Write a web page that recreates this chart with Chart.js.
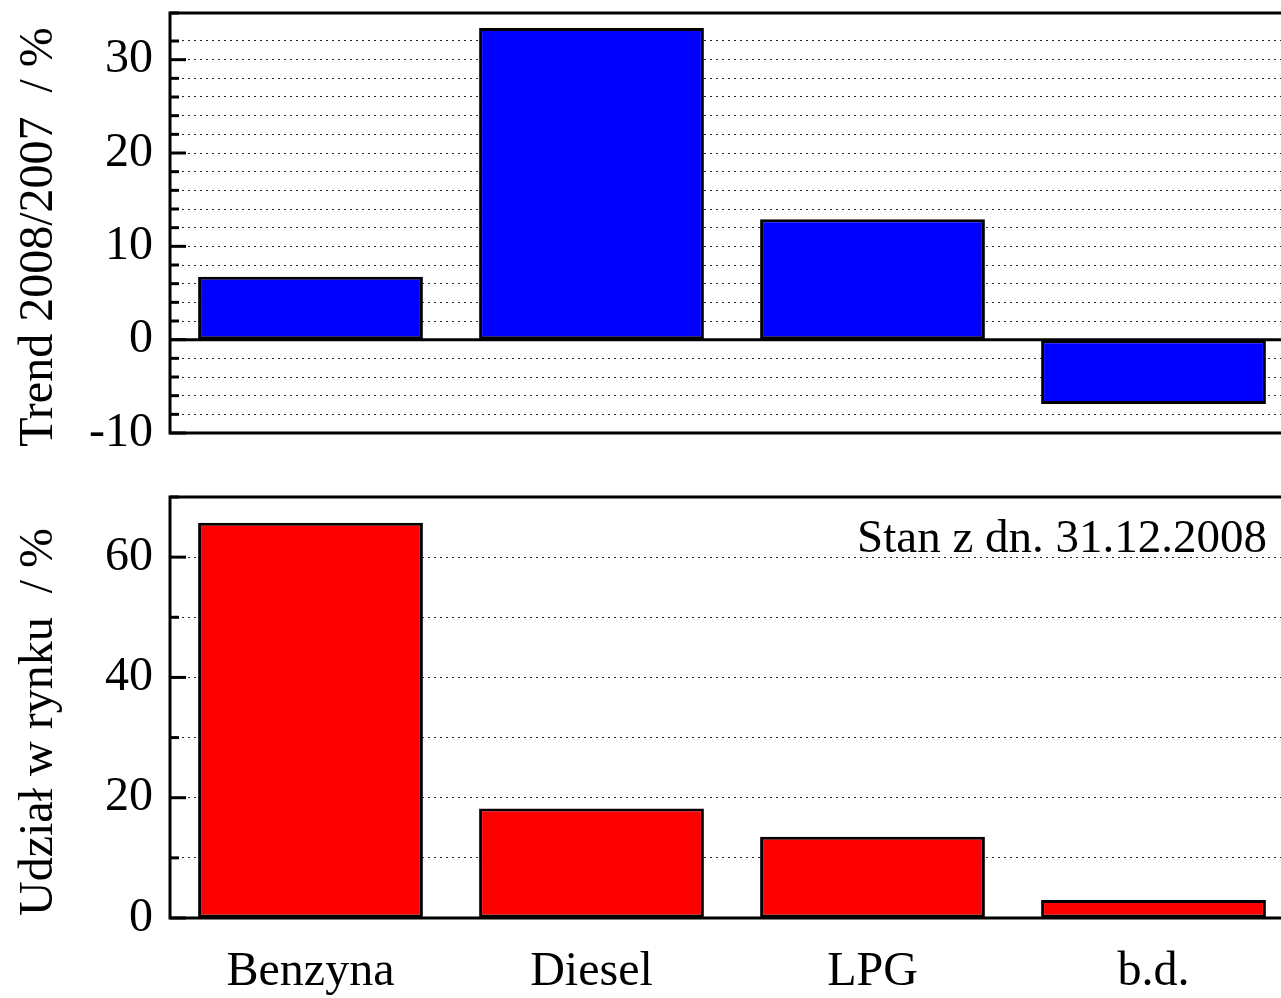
<!DOCTYPE html>
<html><head><meta charset="utf-8">
<script src="https://cdn.jsdelivr.net/npm/chart.js@4.4.0/dist/chart.umd.min.js"></script>
<style>
html,body{margin:0;padding:0;background:#fff;overflow:hidden;width:1281px;height:998px;}
#wrap{position:relative;width:1281px;height:998px;overflow:hidden;}
canvas{position:absolute;left:0;}
</style></head><body>
<div id="wrap">
<canvas id="c1" width="1300" height="465" style="top:0;width:1300px;height:465px"></canvas>
<canvas id="c2" width="1300" height="533" style="top:465px;width:1300px;height:533px"></canvas>
</div>
<script>
const categories = ['Benzyna', 'Diesel', 'LPG', 'b.d.'];
const trendValues = [6.75, 33.4, 12.9, -6.9];
const shareValues = [65.7, 18.2, 13.5, 3.0];
const trendTickLabels = [-10, 0, 10, 20, 30];
const shareTickLabels = [0, 20, 40, 60];
const trendTitle = 'Trend 2008/2007  / %';
const shareTitle = 'Udział w rynku  / %';
const noteText = 'Stan z dn. 31.12.2008';

const FONT = '"Liberation Serif","Times New Roman",Times,serif';

function decoPlugin(o) {
  return {
    id: 'deco',
    afterDraw(chart) {
      const ctx = chart.ctx, a = chart.chartArea, y = chart.scales.y;
      const R = a.right + 20;
      ctx.save();
      ctx.setLineDash([]);
      ctx.strokeStyle = '#000';
      ctx.lineWidth = 3;
      y.ticks.forEach(t => {
        const p = y.getPixelForValue(t.value);
        const major = o.major.includes(t.value);
        ctx.beginPath();
        ctx.moveTo(a.left, p);
        ctx.lineTo(a.left + (major ? 16 : 9), p);
        ctx.stroke();
      });
      if (o.zero) {
        const p = y.getPixelForValue(0);
        ctx.beginPath(); ctx.moveTo(a.left, p); ctx.lineTo(R, p); ctx.stroke();
      }
      ctx.beginPath();
      ctx.moveTo(R, a.top); ctx.lineTo(a.left, a.top);
      ctx.lineTo(a.left, a.bottom); ctx.lineTo(R, a.bottom);
      ctx.stroke();
      ctx.fillStyle = '#000';
      if (o.note) {
        ctx.font = '47px ' + FONT;
        ctx.textAlign = 'right'; ctx.textBaseline = 'alphabetic';
        ctx.fillText(o.note, o.noteX, o.noteY);
      }
      ctx.font = '48px ' + FONT;
      ctx.translate(o.titleX, o.titleY);
      ctx.rotate(-Math.PI / 2);
      ctx.textAlign = 'center'; ctx.textBaseline = 'alphabetic';
      ctx.fillText(o.title, 0, 0);
      ctx.restore();
    }
  };
}

function yScale(min, max, step, labels) {
  return {
    min: min, max: max,
    afterFit(s) { s.width = 170; s.paddingTop = 0; s.paddingBottom = 0; },
    border: { display: false, dash: [2, 4] },
    grid: { color: 'rgba(0,0,0,0.85)', lineWidth: 1, drawTicks: false },
    ticks: {
      stepSize: step, autoSkip: false, padding: 17, color: '#000',
      font: { family: FONT, size: 48 },
      callback: v => labels.includes(v) ? String(v) : ''
    }
  };
}

new Chart(document.getElementById('c1'), {
  type: 'bar',
  data: {
    labels: categories,
    datasets: [{ data: trendValues, backgroundColor: '#0000FF', borderColor: '#000', borderWidth: 3, borderSkipped: false, barPercentage: 0.8, categoryPercentage: 1 }]
  },
  options: {
    responsive: false, animation: false, devicePixelRatio: 1,
    layout: { padding: { top: 13, right: 6, bottom: 32, left: 0 } },
    plugins: { legend: { display: false }, tooltip: { enabled: false } },
    scales: {
      x: { display: false },
      y: yScale(-10, 35, 2, trendTickLabels)
    }
  },
  plugins: [decoPlugin({ major: trendTickLabels, zero: true, title: trendTitle, titleX: 52, titleY: 237 })]
});

new Chart(document.getElementById('c2'), {
  type: 'bar',
  data: {
    labels: categories,
    datasets: [{ data: shareValues, backgroundColor: '#FF0000', borderColor: '#000', borderWidth: 3, borderSkipped: false, barPercentage: 0.8, categoryPercentage: 1 }]
  },
  options: {
    responsive: false, animation: false, devicePixelRatio: 1,
    layout: { padding: { top: 32, right: 6, bottom: 0, left: 0 } },
    plugins: { legend: { display: false }, tooltip: { enabled: false } },
    scales: {
      x: {
        afterFit(s) { s.height = 80; s.paddingLeft = 0; s.paddingRight = 0; },
        grid: { display: false, drawTicks: false },
        border: { display: false },
        ticks: { padding: 26, color: '#000', font: { family: FONT, size: 48 } }
      },
      y: yScale(0, 70, 10, shareTickLabels)
    }
  },
  plugins: [decoPlugin({ major: shareTickLabels, zero: false, title: shareTitle, titleX: 52, titleY: 257, note: noteText, noteX: 1267, noteY: 87 })]
});
</script>
</body></html>
